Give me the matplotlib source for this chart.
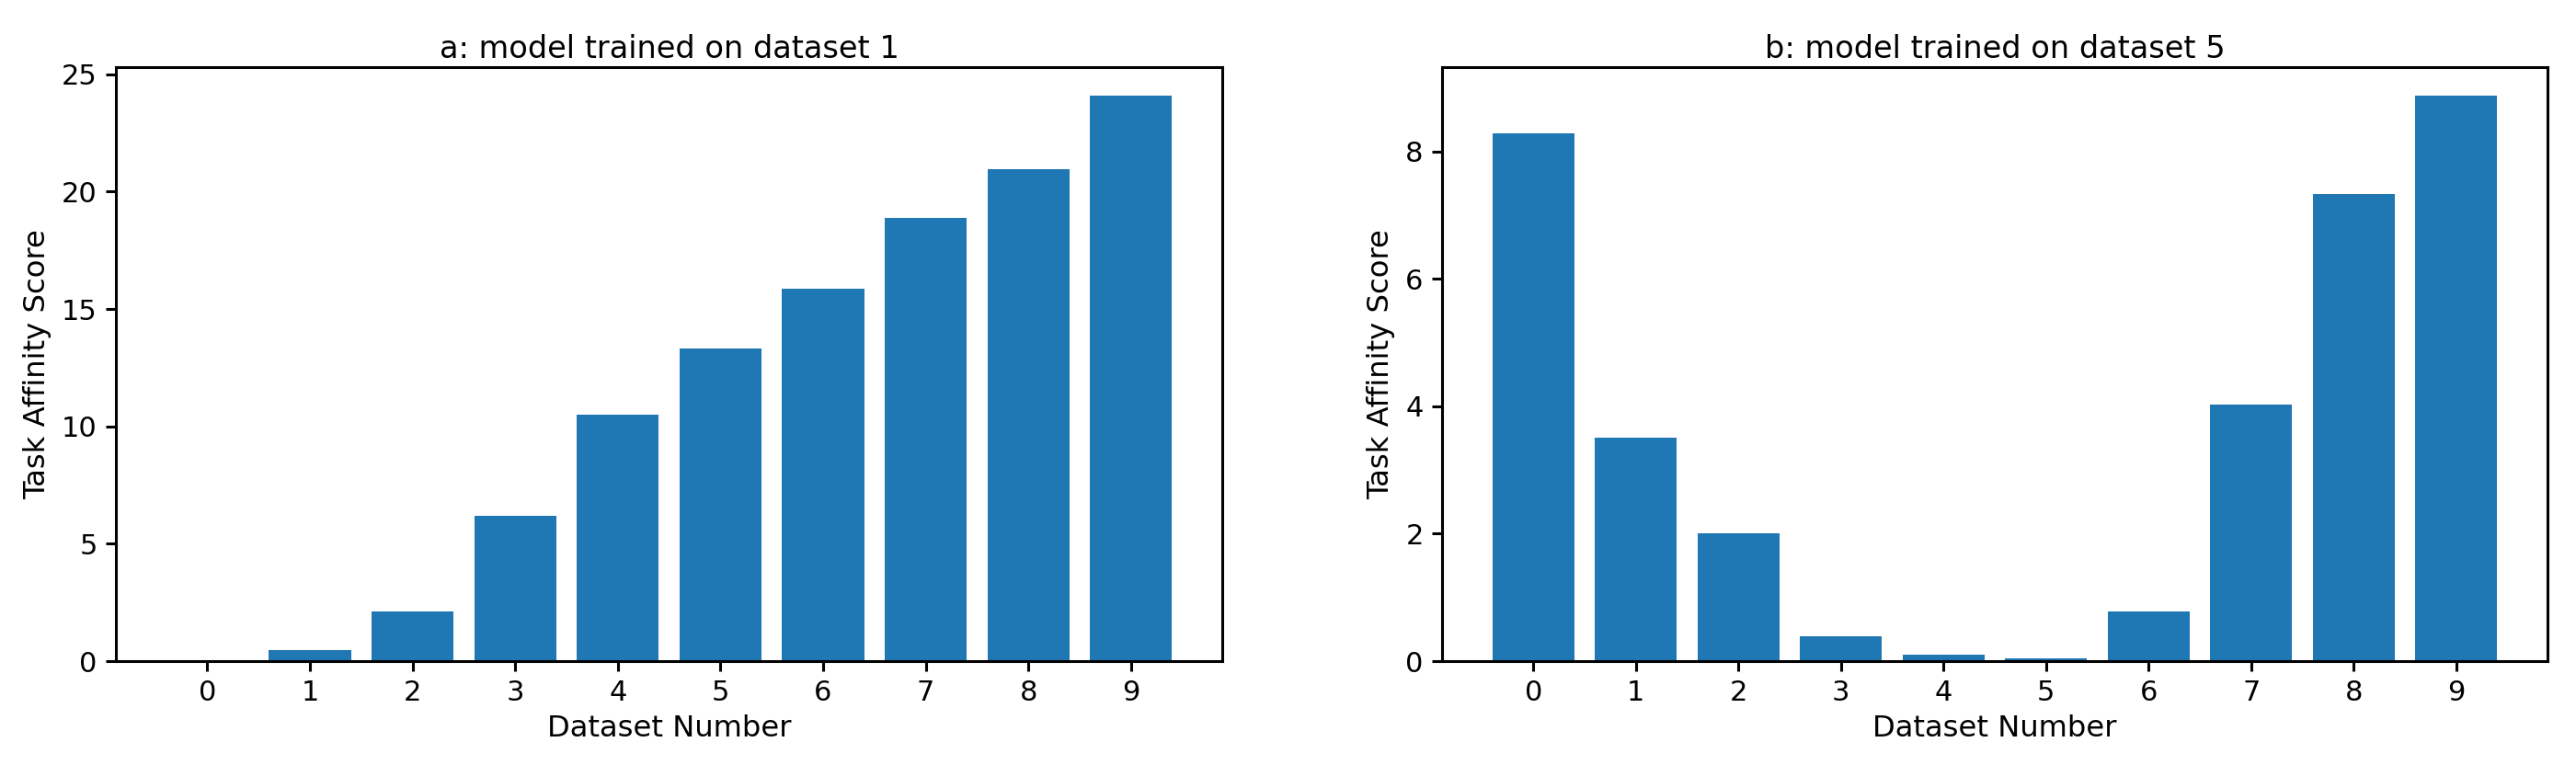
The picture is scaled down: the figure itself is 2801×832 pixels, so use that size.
import matplotlib
matplotlib.use('Agg')
import matplotlib.pyplot as plt

'''
  Task affinity scores per dataset, two training sets
'''
datasets = list(range(10))
scores_a = [0.02, 0.49, 2.1, 6.2, 10.48, 13.33, 15.86, 18.88, 20.97, 24.1]
scores_b = [8.28, 3.51, 2.01, 0.39, 0.1, 0.05, 0.78, 4.03, 7.34, 8.88]
titles = ['a: model trained on dataset 1', 'b: model trained on dataset 5']

plt.rcParams['font.family'] = ['DejaVu Sans']
plt.rcParams['axes.linewidth'] = 1.1

fig = plt.figure(figsize=(14.005, 4.16), dpi=200)
ax_a = fig.add_axes([0.045, 0.1358, 0.4295, 0.7764])
ax_b = fig.add_axes([0.5598, 0.1358, 0.4291, 0.7764])

for ax, vals, title in zip([ax_a, ax_b], [scores_a, scores_b], titles):
	ax.bar(datasets, vals, color='#1f77b4')
	ax.set_xticks(datasets)
	ax.set_title(title, fontsize=12.1, pad=3.5)
	ax.set_xlabel('Dataset Number', fontsize=11.6, labelpad=3)
	ax.set_ylabel('Task Affinity Score', fontsize=11.6)
	ax.tick_params(labelsize=11, width=1.1, length=3.8)

fig.savefig('out.png', dpi=200)
